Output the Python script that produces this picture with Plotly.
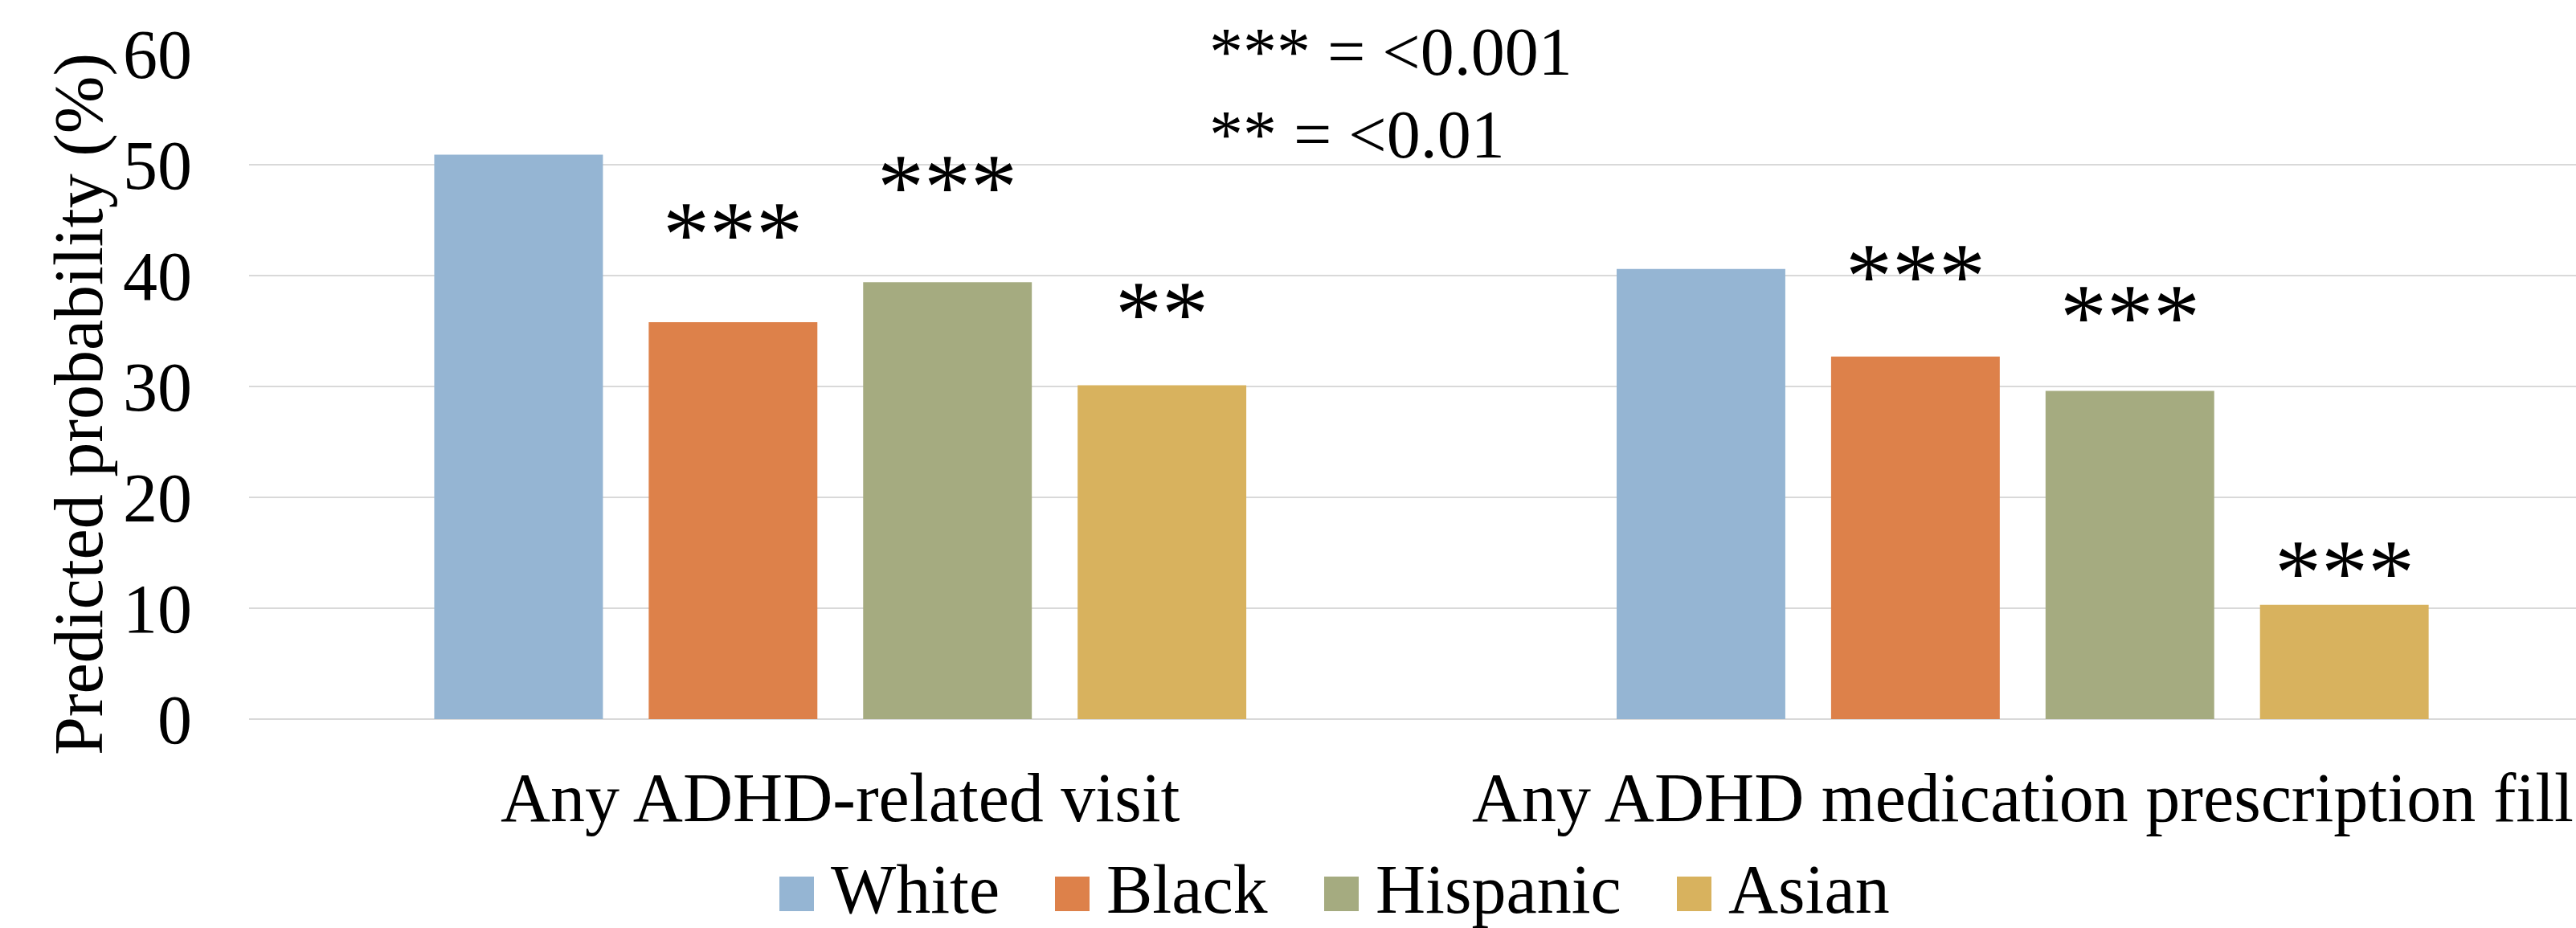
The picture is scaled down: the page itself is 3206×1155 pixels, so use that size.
import plotly.graph_objects as go

# ---- data -------------------------------------------------------------
categories = ["Any ADHD-related visit", "Any ADHD medication prescription fill"]
groups = ["White", "Black", "Hispanic", "Asian"]
white = [50.9, 40.6]
black = [35.8, 32.7]
hispanic = [39.4, 29.6]
asian = [30.1, 10.3]
series = [white, black, hispanic, asian]
colors = ["#95B5D3", "#DD814A", "#A5AB80", "#D8B25E"]

# significance stars per category (one entry per group) and the height they sit at
sig_marks = [["", "***", "***", "**"], ["", "***", "***", "***"]]
sig_height = [[None, 43.7, 48.0, 36.5], [None, 39.9, 36.2, 13.2]]

key_lines = ["*** = <0.001", "** = <0.01"]
y_ticks = [0, 10, 20, 30, 40, 50, 60]
y_title = "Predicted probability (%)"

# ---- layout constants (pixels) ---------------------------------------
W, H = 3206, 1155
ML, MR, MT, MB = 310, 0, 67, 260
PW, PH = W - ML - MR, H - MT - MB
FONT = "Liberation Serif, Times New Roman, serif"
FS = 86
BARGAP, BARGROUPGAP = 0.2745, 0.2135


def px(x):
    return (x - ML) / PW


def py(y):
    return (H - MB - y) / PH


fig = go.Figure()
for name, vals, col in zip(groups, series, colors):
    fig.add_trace(go.Bar(x=categories, y=vals, name=name, marker_color=col,
                         marker_line_width=0, showlegend=False))

annotations = []

# stars above bars, centred on each bar of the group
slot = (1 - BARGAP) / len(groups)
for ci, (marks, heights) in enumerate(zip(sig_marks, sig_height)):
    for gi, (m, h) in enumerate(zip(marks, heights)):
        if not m:
            continue
        annotations.append(dict(x=ci + (gi - (len(groups) - 1) / 2) * slot, y=h,
                                xref="x", yref="y", text=m, showarrow=False,
                                xanchor="center", yanchor="middle",
                                font=dict(family=FONT, size=116, color="black")))

# category labels under the axis
for cat in categories:
    annotations.append(dict(x=cat, y=0, xref="x", yref="paper", yshift=-98,
                            text=cat, showarrow=False, xanchor="center",
                            yanchor="middle",
                            font=dict(family=FONT, size=FS, color="black")))

# y-axis title
annotations.append(dict(x=px(98), y=py(503), xref="paper", yref="paper",
                        text=y_title, textangle=-90, showarrow=False,
                        xanchor="center", yanchor="middle",
                        font=dict(family=FONT, size=FS, color="black")))

# significance key
for i, line in enumerate(key_lines):
    annotations.append(dict(x=px(1503), y=py(65 + i * 102), xref="paper", yref="paper",
                            text=line, showarrow=False, xanchor="left",
                            yanchor="middle",
                            font=dict(family=FONT, size=84, color="black")))

# legend: coloured squares with labels
legend_left = [970, 1313, 1648, 2087]
shapes = []
for name, col, lx in zip(groups, colors, legend_left):
    shapes.append(dict(type="rect", xref="paper", yref="paper",
                       x0=px(lx), x1=px(lx + 43), y0=py(1134), y1=py(1091),
                       fillcolor=col, line=dict(width=0)))
    annotations.append(dict(x=px(lx + 62), y=py(1107), xref="paper", yref="paper",
                            text=name, showarrow=False, xanchor="left",
                            yanchor="middle",
                            font=dict(family=FONT, size=FS, color="black")))

fig.update_layout(
    width=W, height=H, autosize=False,
    margin=dict(l=ML, r=MR, t=MT, b=MB, pad=0),
    paper_bgcolor="white", plot_bgcolor="white",
    barmode="group", bargap=BARGAP, bargroupgap=BARGROUPGAP,
    annotations=annotations, shapes=shapes,
    xaxis=dict(type="category", categoryorder="array", categoryarray=categories,
               range=[-0.5, 1.468], showticklabels=False, showgrid=False,
               zeroline=False, showline=False, ticks=""),
    yaxis=dict(range=[0, 60], tickvals=y_ticks, ticks="", showline=False,
               gridcolor="#D9D9D9", gridwidth=2, zeroline=True,
               zerolinecolor="#D9D9D9", zerolinewidth=2,
               tickfont=dict(family=FONT, size=FS, color="black"),
               ticklabelstandoff=70),
    font=dict(family=FONT, size=FS, color="black"),
)

fig.write_html("out.html")
